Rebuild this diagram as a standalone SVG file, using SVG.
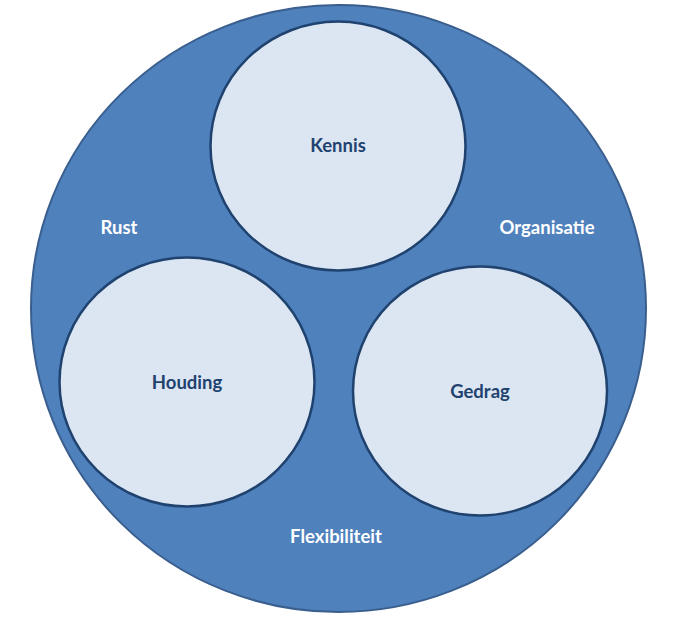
<svg xmlns="http://www.w3.org/2000/svg" width="677" height="619" viewBox="0 0 677 619">
<style>
.outer{fill:#4F81BD;stroke:#3A5F8E;stroke-width:2}
.inner{fill:#DCE6F2;stroke:#1F426F;stroke-width:2.5}
.lbl{font-family:Lato,"Open Sans","Liberation Sans",sans-serif;font-weight:bold;font-size:18.5px;text-anchor:middle;dominant-baseline:central}
.in{fill:#1F426F}
.out{fill:#FFFFFF}
</style>
<rect width="677" height="619" fill="#FFFFFF"/>
<g id="outer">
<ellipse class="outer" cx="338.5" cy="308.5" rx="307.5" ry="303.5"/>
<text class="lbl out" x="119" y="226.5">Rust</text>
<text class="lbl out" x="547" y="226.5">Organisatie</text>
<text class="lbl out" x="336" y="535.5">Flexibiliteit</text>
</g>
<g id="kennis">
<ellipse class="inner" cx="338" cy="146" rx="127.5" ry="124.5"/>
<text class="lbl in" x="338" y="144.5">Kennis</text>
</g>
<g id="houding">
<ellipse class="inner" cx="187" cy="382" rx="127.5" ry="124.5"/>
<text class="lbl in" x="187" y="381.5">Houding</text>
</g>
<g id="gedrag">
<ellipse class="inner" cx="480" cy="391" rx="127" ry="124.5"/>
<text class="lbl in" x="480" y="390.5">Gedrag</text>
</g>
<g id="connectors"/>
</svg>
